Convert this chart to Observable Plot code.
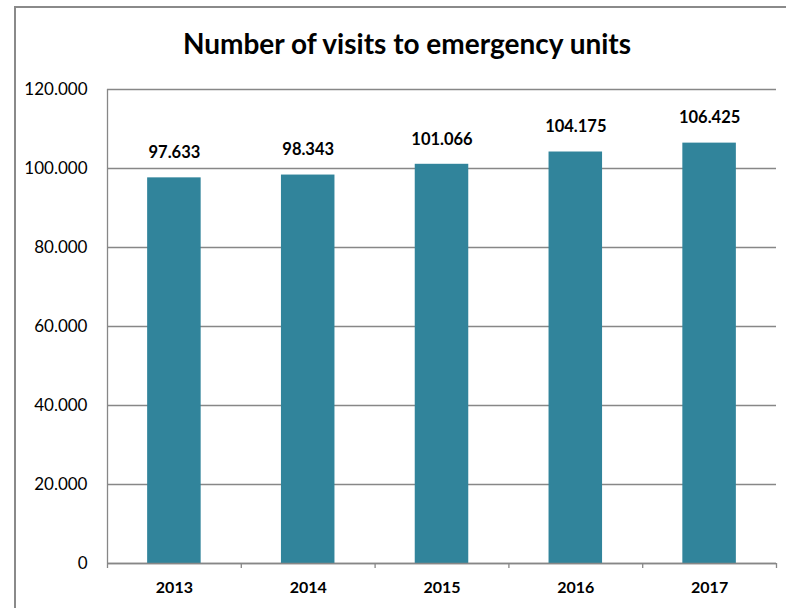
<!DOCTYPE html>
<html>
<head>
<meta charset="utf-8">
<script src="https://cdn.jsdelivr.net/npm/d3@7"></script>
<script src="https://cdn.jsdelivr.net/npm/@observablehq/plot@0.6"></script>
<style>
  html, body { margin: 0; padding: 0; background: #fff; overflow: hidden; }
  #wrap { position: relative; width: 786px; height: 608px; font-family: Lato, "Open Sans", sans-serif; }
  #frame { position: absolute; left: 14px; top: 6px; width: 800px; height: 620px; border-left: 2px solid #8a8a8a; border-top: 2px solid #8a8a8a; box-sizing: border-box; }
  #title { position: absolute; left: 14px; right: -14px; top: 26px; line-height: 34px; text-align: center; font-weight: bold; font-size: 28px; color: #000; }
  #chart { position: absolute; left: 0; top: 0; }
</style>
</head>
<body>
<div id="wrap">
  <div id="frame"></div>
  <div id="chart"></div>
  <div id="title">Number of visits to emergency units</div>
</div>
<script>
const years = ["2013", "2014", "2015", "2016", "2017"];
const visits = [97633, 98343, 101066, 104175, 106425];
const yTicks = [0, 20000, 40000, 60000, 80000, 100000, 120000];

const data = years.map((year, i) => ({year, value: visits[i], i}));
const fmt = v => d3.format(",")(v).replace(/,/g, ".");
const barColor = "#31849B";
const gridColor = "#878787";

const plot = Plot.plot({
  width: 786,
  height: 608,
  marginLeft: 107,
  marginRight: 10,
  marginTop: 89,
  marginBottom: 45,
  style: {fontFamily: "Lato, 'Open Sans', sans-serif", color: "#000", background: "transparent"},
  x: {type: "linear", domain: [0, years.length], axis: null},
  y: {domain: [0, 120000], axis: null},
  marks: [
    Plot.gridY(yTicks, {stroke: gridColor, strokeOpacity: 1, strokeWidth: 1.3}),
    Plot.rectY(data, {x1: d => d.i + 0.3, x2: d => d.i + 0.7, y: "value", fill: barColor}),
    Plot.ruleX([0], {stroke: gridColor, strokeWidth: 1.3}),
    Plot.ruleY([0], {stroke: gridColor, strokeWidth: 1.3}),
    Plot.axisX(d3.range(years.length + 1), {tickSize: 5, tickFormat: () => "", label: null, stroke: gridColor, strokeWidth: 1.3}),
    Plot.axisX(data.map(d => d.i + 0.5), {tickSize: 0, tickPadding: 18, label: null, tickFormat: v => years[Math.round(v - 0.5)], fontSize: 16, fontWeight: "bold", fill: "#000"}),
    Plot.axisY(yTicks, {tickSize: 0, tickPadding: 20, label: null, tickFormat: fmt, fontSize: 17, fill: "#000"}),
    Plot.text(data, {x: d => d.i + 0.5, y: "value", text: d => fmt(d.value), dy: -25, fontSize: 16.5, fontWeight: "bold", fill: "#000"})
  ]
});
document.getElementById("chart").appendChild(plot);
</script>
</body>
</html>
